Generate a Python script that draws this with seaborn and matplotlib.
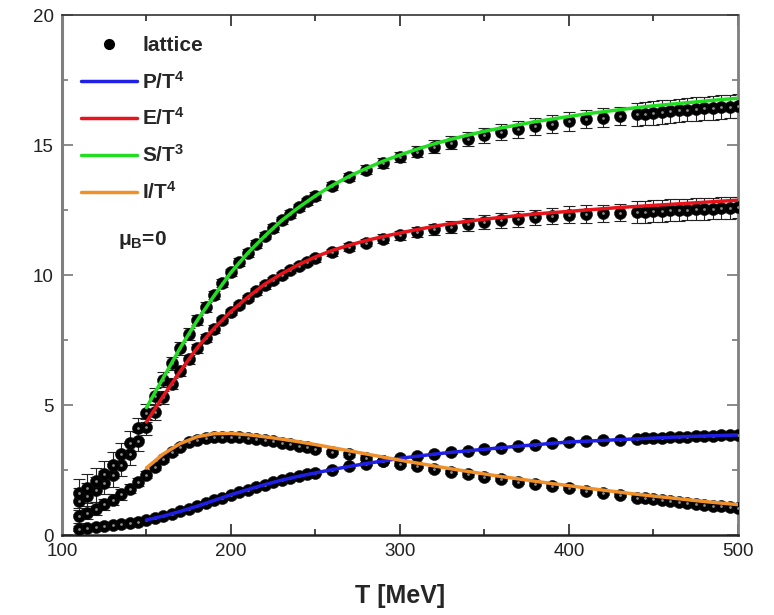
import pandas as pd
import matplotlib
matplotlib.use("Agg")
import matplotlib.pyplot as plt
from matplotlib.lines import Line2D
from matplotlib.ticker import MultipleLocator
import seaborn as sns

# lattice points (T in MeV)
T_pts = [110, 115, 120, 125, 130, 135, 140, 145, 150, 155, 160, 165, 170, 175, 180,
         185, 190, 195, 200, 205, 210, 215, 220, 225, 230, 235, 240, 245, 250,
         260, 270, 280, 290, 300, 310, 320, 330, 340, 350, 360, 370, 380, 390, 400,
         410, 420, 430,
         440, 445, 450, 455, 460, 465, 470, 475, 480, 485, 490, 495, 500]

P_pts = [0.25, 0.28, 0.31, 0.34, 0.38, 0.42, 0.46, 0.52, 0.58, 0.65, 0.73, 0.82, 0.91, 1.01, 1.11,
         1.22, 1.33, 1.44, 1.55, 1.65, 1.75, 1.85, 1.94, 2.03, 2.11, 2.19, 2.26, 2.33, 2.39,
         2.52, 2.64, 2.75, 2.85, 2.95, 3.03, 3.11, 3.18, 3.24, 3.30, 3.36, 3.42, 3.47, 3.53, 3.58,
         3.61, 3.64, 3.67,
         3.70, 3.72, 3.73, 3.75, 3.76, 3.78, 3.79, 3.80, 3.81, 3.82, 3.83, 3.84, 3.85]
P_err = [0.08, 0.08, 0.08, 0.08, 0.07, 0.07, 0.07, 0.06, 0.06, 0.05, 0.05, 0.05, 0.05, 0.05, 0.05,
         0.05, 0.05, 0.05, 0.05, 0.05, 0.05, 0.05, 0.05, 0.05, 0.05, 0.05, 0.05, 0.05, 0.05,
         0.05, 0.05, 0.05, 0.05, 0.05, 0.05, 0.05, 0.05, 0.05, 0.05, 0.05, 0.06, 0.06, 0.06, 0.06,
         0.06, 0.06, 0.06,
         0.08, 0.08, 0.08, 0.08, 0.08, 0.08, 0.08, 0.08, 0.08, 0.08, 0.08, 0.08, 0.08]

I_pts = [0.72, 0.86, 1.02, 1.18, 1.36, 1.56, 1.78, 2.04, 2.32, 2.62, 2.92, 3.18, 3.40, 3.56, 3.67,
         3.74, 3.78, 3.79, 3.78, 3.76, 3.73, 3.69, 3.65, 3.60, 3.55, 3.50, 3.44, 3.38, 3.32,
         3.21, 3.10, 2.98, 2.86, 2.75, 2.64, 2.54, 2.43, 2.33, 2.23, 2.14, 2.05, 1.96, 1.88, 1.80,
         1.71, 1.62, 1.53,
         1.44, 1.41, 1.37, 1.34, 1.30, 1.27, 1.23, 1.20, 1.16, 1.13, 1.10, 1.07, 1.04]
I_err = [0.25, 0.25, 0.24, 0.22, 0.2, 0.2, 0.18, 0.16, 0.14, 0.12, 0.1, 0.1, 0.1, 0.1, 0.1,
         0.08, 0.08, 0.08, 0.08, 0.08, 0.08, 0.08, 0.08, 0.08, 0.08, 0.08, 0.08, 0.08, 0.08,
         0.08, 0.08, 0.08, 0.08, 0.08, 0.08, 0.08, 0.08, 0.08, 0.08, 0.08, 0.08, 0.08, 0.08, 0.08,
         0.08, 0.08, 0.08,
         0.1, 0.1, 0.1, 0.1, 0.1, 0.1, 0.1, 0.1, 0.1, 0.1, 0.1, 0.1, 0.1]

E_pts = [1.30, 1.50, 1.74, 2.02, 2.30, 2.68, 3.10, 3.60, 4.15, 4.72, 5.30, 5.82, 6.30, 6.76, 7.18,
         7.57, 7.93, 8.27, 8.58, 8.86, 9.12, 9.37, 9.60, 9.81, 10.01, 10.20, 10.36, 10.51, 10.64,
         10.88, 11.08, 11.25, 11.40, 11.53, 11.65, 11.76, 11.86, 11.95, 12.03, 12.10, 12.16, 12.22,
         12.27, 12.32, 12.35, 12.38, 12.40,
         12.42, 12.44, 12.46, 12.47, 12.49, 12.50, 12.52, 12.53, 12.55, 12.56, 12.58, 12.59, 12.60]
E_err = [0.5, 0.5, 0.48, 0.46, 0.44, 0.42, 0.4, 0.36, 0.32, 0.28, 0.25, 0.22, 0.2, 0.18, 0.16,
         0.15, 0.14, 0.13, 0.12, 0.12, 0.12, 0.12, 0.12, 0.12, 0.12, 0.12, 0.12, 0.12, 0.12,
         0.13, 0.14, 0.15, 0.17, 0.18, 0.2, 0.22, 0.23, 0.25, 0.27, 0.28, 0.3, 0.3, 0.32, 0.32,
         0.33, 0.33, 0.33,
         0.42, 0.42, 0.42, 0.42, 0.42, 0.42, 0.42, 0.42, 0.42, 0.42, 0.42, 0.42, 0.42]

S_pts = [1.60, 1.80, 2.06, 2.36, 2.70, 3.10, 3.55, 4.10, 4.70, 5.35, 5.98, 6.60, 7.18, 7.74, 8.27,
         8.77, 9.24, 9.69, 10.10, 10.50, 10.86, 11.20, 11.52, 11.82, 12.10, 12.36, 12.60, 12.83, 13.04,
         13.42, 13.76, 14.06, 14.32, 14.55, 14.75, 14.93, 15.09, 15.24, 15.37, 15.50, 15.61, 15.72,
         15.82, 15.91, 15.99, 16.06, 16.12,
         16.18, 16.21, 16.24, 16.27, 16.30, 16.33, 16.36, 16.38, 16.41, 16.43, 16.46, 16.48, 16.50]
S_err = [0.55, 0.55, 0.5, 0.5, 0.5, 0.45, 0.45, 0.4, 0.35, 0.3, 0.28, 0.26, 0.24, 0.22, 0.2,
         0.18, 0.16, 0.15, 0.15, 0.15, 0.15, 0.15, 0.15, 0.15, 0.15, 0.15, 0.15, 0.15, 0.15,
         0.15, 0.15, 0.18, 0.2, 0.2, 0.22, 0.25, 0.25, 0.28, 0.3, 0.3, 0.32, 0.32, 0.35, 0.35,
         0.35, 0.35, 0.35,
         0.45, 0.45, 0.45, 0.45, 0.45, 0.45, 0.45, 0.45, 0.45, 0.45, 0.45, 0.45, 0.45]

# model curves
T_fit = [150, 160, 170, 180, 190, 200, 210, 220, 230, 240, 250, 260, 270, 280, 290, 300,
         310, 320, 330, 340, 350, 360, 370, 380, 390, 400, 410, 420, 430, 440, 450, 460,
         470, 480, 490, 500]
P_fit = [0.58, 0.73, 0.91, 1.11, 1.33, 1.55, 1.75, 1.94, 2.11, 2.26, 2.39, 2.52, 2.64, 2.75,
         2.85, 2.95, 3.03, 3.11, 3.18, 3.24, 3.30, 3.36, 3.42, 3.47, 3.53, 3.58, 3.61, 3.64,
         3.67, 3.70, 3.73, 3.76, 3.79, 3.81, 3.83, 3.85]
I_fit = [2.58, 3.12, 3.52, 3.78, 3.90, 3.91, 3.86, 3.78, 3.69, 3.59, 3.48, 3.36, 3.24, 3.12,
         3.00, 2.88, 2.77, 2.66, 2.55, 2.45, 2.35, 2.25, 2.16, 2.07, 1.98, 1.90, 1.81, 1.73,
         1.65, 1.57, 1.50, 1.43, 1.36, 1.29, 1.23, 1.17]
E_fit = [4.35, 5.35, 6.30, 7.20, 7.95, 8.60, 9.15, 9.65, 10.05, 10.40, 10.70, 10.95, 11.15,
         11.33, 11.48, 11.62, 11.75, 11.87, 11.98, 12.07, 12.15, 12.22, 12.29, 12.35, 12.40,
         12.45, 12.50, 12.55, 12.60, 12.64, 12.68, 12.72, 12.76, 12.80, 12.84, 12.88]
S_fit = [4.90, 6.05, 7.20, 8.25, 9.20, 10.10, 10.85, 11.50, 12.10, 12.60, 13.05, 13.45, 13.80,
         14.10, 14.38, 14.62, 14.84, 15.04, 15.22, 15.38, 15.53, 15.66, 15.78, 15.90, 16.00,
         16.10, 16.20, 16.28, 16.36, 16.44, 16.51, 16.57, 16.63, 16.69, 16.75, 16.80]

series = ["P/T$^4$", "E/T$^4$", "S/T$^3$", "I/T$^4$"]
colors = ["#1f1fe6", "#e8141c", "#22dd22", "#f0902a"]

pts = pd.concat([
    pd.DataFrame({"T": T_pts, "value": v, "err": e, "series": s})
    for s, v, e in zip(series, [P_pts, E_pts, S_pts, I_pts], [P_err, E_err, S_err, I_err])
])
fits = pd.concat([
    pd.DataFrame({"T": T_fit, "value": v, "series": s})
    for s, v in zip(series, [P_fit, E_fit, S_fit, I_fit])
])

sns.set_theme(style="ticks")
plt.rcParams["font.family"] = ["Liberation Sans", "DejaVu Sans"]
plt.rcParams["mathtext.fontset"] = "custom"
plt.rcParams["mathtext.rm"] = "Liberation Sans:bold"
plt.rcParams["mathtext.it"] = "Liberation Sans:bold"
plt.rcParams["mathtext.bf"] = "Liberation Sans:bold"

fig = plt.figure(figsize=(7.74, 6.15), dpi=100)
ax = fig.add_axes([0.080, 0.130, 0.8735, 0.8455])

# error bars, then ball markers, then curves on top
ax.errorbar(pts["T"], pts["value"], yerr=pts["err"], fmt="none", ecolor="#222222",
            elinewidth=0.8, capsize=4, capthick=0.8, zorder=2)
sns.scatterplot(data=pts, x="T", y="value", color="black", s=75, edgecolor="#111111",
                linewidth=0.4, zorder=3, legend=False, ax=ax)
sns.scatterplot(data=pts, x="T", y="value", color="#8c8c8c", s=4, linewidth=0,
                zorder=4, legend=False, ax=ax)
sns.lineplot(data=fits, x="T", y="value", hue="series", palette=dict(zip(series, colors)),
             estimator=None, lw=2.5, zorder=5, legend=False, ax=ax)

ax.set_xlim(100, 500)
ax.set_ylim(0, 20)
ax.xaxis.set_major_locator(MultipleLocator(100))
ax.xaxis.set_minor_locator(MultipleLocator(50))
ax.yaxis.set_major_locator(MultipleLocator(5))
ax.yaxis.set_minor_locator(MultipleLocator(2.5))
ax.tick_params(which="both", direction="in", top=True, right=True, width=1.2,
               labelsize=13.5, labelcolor="#222222", pad=6)
ax.tick_params(which="major", length=8)
ax.tick_params(which="minor", length=4)
ax.tick_params(axis="y", which="both", color="#777777")

for side, c, w in [("left", "#7f7f7f", 2.2), ("right", "#7f7f7f", 2.0),
                   ("top", "#333333", 1.2), ("bottom", "#222222", 1.8)]:
    ax.spines[side].set_color(c)
    ax.spines[side].set_linewidth(w)

ax.set_xlabel("T [MeV]", fontsize=18, fontweight="bold", labelpad=17)
ax.set_ylabel("")

handles = [Line2D([], [], marker="o", ls="none", color="black", markersize=7)]
handles += [Line2D([], [], color=c, lw=2.5) for c in colors]
ax.legend(handles, ["lattice"] + series, loc="upper left", bbox_to_anchor=(0.0, 0.995),
          frameon=False, prop={"weight": "bold", "size": 15}, handlelength=2.7,
          handletextpad=0.25, labelspacing=0.72, borderaxespad=0.0, borderpad=0.9)

ax.text(0.083, 0.567, r"$\mu_B$=0", transform=ax.transAxes, fontsize=15,
        fontweight="bold", ha="left", va="center")

fig.savefig("out.png", dpi=100)
